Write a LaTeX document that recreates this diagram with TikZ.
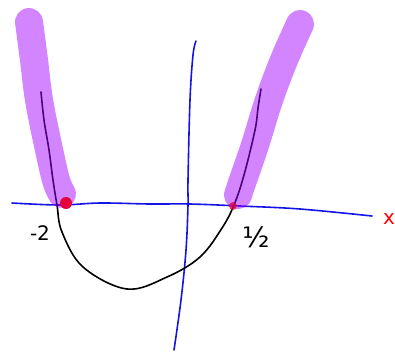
\documentclass[tikz,border=0pt]{standalone}
\usepackage{fontspec}
\setmainfont{DejaVu Sans}
\definecolor{hlpurple}{RGB}{160,0,255}
\definecolor{axisblue}{RGB}{20,20,230}
\definecolor{dotred}{RGB}{228,0,60}
\tikzset{
  axisline/.style={axisblue, line width=1.6pt, line cap=round, line join=round},
  curveline/.style={black, line width=1.6pt, line cap=round, line join=round},
  highlight/.style={hlpurple, opacity=0.48, line width=28pt, line cap=round, line join=round},
  rootdot/.style={circle, fill=dotred, inner sep=0pt},
  lbl/.style={inner sep=0pt, font=\fontsize{20}{22}\selectfont}
}
\begin{document}
\begin{tikzpicture}[x=1pt,y=-1pt]
\useasboundingbox (0,0) rectangle (395,354);
% axes
\draw[axisline] plot[smooth, tension=0.6] coordinates {(12,203) (60,205) (100,203) (150,204) (190,204) (240,206) (300,209) (372,216)};
\draw[axisline] plot[smooth, tension=0.6] coordinates {(196,41) (193,55) (190,100) (188,180) (188,205) (186,250) (181,300) (174,350)};
% parabola
\draw[curveline] plot[smooth, tension=0.6] coordinates {(41,92) (44,120) (49,150) (53,180) (57,205) (62,232) (83,267) (127,289) (167,277) (200,257) (222,228) (234,205) (244,175) (255,130) (258,108) (261,89)};
% highlights
\draw[highlight] plot[smooth, tension=0.6] coordinates {(29,22) (34,60) (39,100) (48,145) (56,180) (62,194)};
\draw[highlight] plot[smooth, tension=0.6] coordinates {(300,24) (284,60) (269,100) (255,145) (243,180) (238,195)};
% roots
\node[rootdot, minimum size=12pt] (r1) at (66,203) {};
\node[rootdot, minimum size=8pt, opacity=0.75] (r2) at (233,206) {};
% labels
\node[lbl] (m2) at (40,233) {-2};
\node[lbl, font=\fontsize{28}{30}\selectfont] (half) at (256,237) {½};
\node[lbl, text=red] (xl) at (389,219) {x};
\end{tikzpicture}
\end{document}
